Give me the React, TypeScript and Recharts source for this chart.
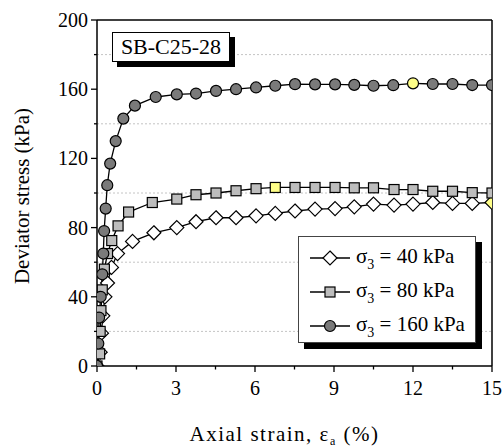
import React from 'react';
import {
  LineChart,
  Line,
  XAxis,
  YAxis,
  Legend,
  ReferenceLine,
} from 'recharts';

// 軸ひずみ (%) と偏差応力 (kPa)
const strain40 = [0, 0.12, 0.17, 0.22, 0.3, 0.4, 0.55, 0.78, 1.35, 2.16, 3.03, 3.76, 4.52, 5.28, 6.04, 6.77, 7.52, 8.28, 9.04, 9.77, 10.5, 11.28, 12.0, 12.75, 13.5, 14.25, 15.0];
const stress40 = [0, 8, 19, 29, 40, 48, 57, 65, 72, 77, 80, 83.4, 85.7, 85.7, 86.8, 88.2, 89.6, 90.7, 91, 92, 93.6, 93, 93.6, 94.5, 94, 94, 94.5];

const strain80 = [0, 0.1, 0.12, 0.15, 0.2, 0.28, 0.4, 0.56, 0.8, 1.2, 2.1, 3.03, 3.76, 4.52, 5.28, 6.04, 6.77, 7.52, 8.28, 9.04, 9.77, 10.5, 11.28, 12.0, 12.75, 13.5, 14.25, 15.0];
const stress80 = [0, 7, 20, 32, 44, 56, 65, 72.5, 81, 89, 94.5, 96.5, 99, 100, 101.3, 102.5, 103.2, 103.2, 103.2, 103.2, 103, 103, 102, 102, 101, 101, 100.2, 100];

const strain160 = [0, 0.05, 0.08, 0.14, 0.2, 0.24, 0.27, 0.33, 0.39, 0.5, 0.71, 1.0, 1.44, 2.23, 3.03, 3.76, 4.52, 5.28, 6.04, 6.77, 7.52, 8.28, 9.04, 9.77, 10.5, 11.25, 12.0, 12.75, 13.5, 14.25, 15.0];
const stress160 = [0, 13, 28, 40, 53, 65, 78, 91, 104.5, 117, 130, 143, 150.5, 155.5, 157, 157.5, 159, 160, 161, 162, 162.9, 162.8, 162.8, 162.5, 162, 162.3, 163.4, 163, 163, 162.4, 162.4];

// 黄色で強調されている点 (ひずみ値)
const peak40 = 15.0;
const peak80 = 6.77;
const peak160 = 12.0;

const xTicks = [0, 1.5, 3, 4.5, 6, 7.5, 9, 10.5, 12, 13.5, 15];
const yTicks = [0, 20, 40, 60, 80, 100, 120, 140, 160, 180, 200];
const gridValues = [20, 60, 100, 140, 180];

const toPoints = (xs: number[], ys: number[]) => xs.map((x, i) => ({ x, y: ys[i] }));

const FONT = "'Liberation Serif', 'Times New Roman', serif";
const HIGHLIGHT = '#ffff88';
const txt = { fontFamily: FONT, fontSize: 20, fill: '#000' };

const Diamond = ({ cx, cy, fill }: any) => (
  <path
    d={`M${cx},${cy - 7}L${cx + 7},${cy}L${cx},${cy + 7}L${cx - 7},${cy}Z`}
    fill={fill}
    stroke="#000"
    strokeWidth={1.2}
  />
);
const Square = ({ cx, cy, fill }: any) => (
  <rect x={cx - 5} y={cy - 5} width={10} height={10} fill={fill} stroke="#000" strokeWidth={1.2} />
);
const Circle = ({ cx, cy, fill }: any) => (
  <circle cx={cx} cy={cy} r={5.5} fill={fill} stroke="#000" strokeWidth={1.2} />
);

const makeDot = (Shape: any, base: string, peak: number) => (props: any) => {
  const { cx, cy, index, payload } = props;
  if (cx == null || cy == null) return <g key={`e-${index}`} />;
  const fill = payload && payload.x === peak ? HIGHLIGHT : base;
  return (
    <g key={`d-${index}`}>
      <Shape cx={cx} cy={cy} fill={fill} />
    </g>
  );
};

const YTick = ({ x, y, payload }: any) => {
  const major = payload.value % 40 === 0;
  return (
    <g>
      <line x1={x - (major ? 6 : 3)} x2={x} y1={y} y2={y} stroke="#000" strokeWidth={1.3} />
      {major && (
        <text x={x - 9} y={y} dy="0.35em" textAnchor="end" style={txt}>
          {payload.value}
        </text>
      )}
    </g>
  );
};

const XTick = ({ x, y, payload }: any) => {
  const major = payload.value % 3 === 0;
  return (
    <g>
      <line x1={x} x2={x} y1={y} y2={y + (major ? 6 : 3.5)} stroke="#000" strokeWidth={1.3} />
      {major && (
        <text x={x} y={y + 29} textAnchor="middle" style={txt}>
          {payload.value}
        </text>
      )}
    </g>
  );
};

const YLabel = ({ viewBox }: any) => {
  const cx = viewBox.x + 22;
  const cy = viewBox.y + viewBox.height / 2 + 3;
  return (
    <text
      x={cx}
      y={cy}
      transform={`rotate(-90 ${cx} ${cy})`}
      textAnchor="middle"
      dy="0.35em"
      style={{ ...txt, fontSize: 21 }}
    >
      Deviator stress (kPa)
    </text>
  );
};

const XLabel = ({ viewBox }: any) => (
  <text
    x={viewBox.x + viewBox.width / 2 - 10}
    y={viewBox.y + 75}
    textAnchor="middle"
    style={{ ...txt, fontSize: 21, letterSpacing: 1.5 }}
  >
    Axial strain, ε
    <tspan style={{ fontSize: 12 }} dy={4}>a</tspan>
    <tspan dy={-4}> (%)</tspan>
  </text>
);

const legendRows = [
  { label: '40 kPa', Shape: Diamond, fill: '#fff' },
  { label: '80 kPa', Shape: Square, fill: '#bdbdbd' },
  { label: '160 kPa', Shape: Circle, fill: '#7a7a7a' },
];

const LegendBox = () => (
  <div
    style={{
      width: 178,
      height: 107,
      boxSizing: 'border-box',
      border: '1px solid #444',
      background: '#fff',
      boxShadow: '6px 6px 0 #000',
      paddingTop: 4,
      fontFamily: FONT,
      fontSize: 21,
      color: '#000',
    }}
  >
    {legendRows.map(({ label, Shape, fill }) => (
      <div key={label} style={{ height: 34, display: 'flex', alignItems: 'center', paddingLeft: 11 }}>
        <svg width={40} height={16} style={{ marginRight: 6 }}>
          <line x1={0} x2={40} y1={8} y2={8} stroke="#000" strokeWidth={1.3} />
          <Shape cx={20} cy={8} fill={fill} />
        </svg>
        <span style={{ whiteSpace: 'nowrap' }}>
          σ<sub style={{ fontSize: 14, verticalAlign: -6 }}>3</sub> = {label}
        </span>
      </div>
    ))}
  </div>
);

export default function App() {
  return (
    <div style={{ position: 'absolute', left: 0, top: 0, width: 502, height: 448, background: '#fff' }}>
      <LineChart width={502} height={448} margin={{ top: 20, right: 10, bottom: 0, left: 0 }}>
        {gridValues.map((v) => (
          <ReferenceLine key={v} y={v} stroke="#c4c4c4" strokeDasharray="2 2" strokeWidth={1} />
        ))}
        <ReferenceLine y={200} stroke="#000" strokeWidth={1.5} />
        <ReferenceLine x={15} stroke="#000" strokeWidth={1.5} />
        <XAxis
          type="number"
          dataKey="x"
          domain={[0, 15]}
          ticks={xTicks}
          interval={0}
          height={82}
          tickSize={0}
          tickMargin={0}
          tickLine={false}
          tick={<XTick />}
          axisLine={{ stroke: '#000', strokeWidth: 1.5 }}
          label={<XLabel />}
          allowDataOverflow
        />
        <YAxis
          type="number"
          dataKey="y"
          domain={[0, 200]}
          ticks={yTicks}
          interval={0}
          width={97}
          tickSize={0}
          tickMargin={0}
          tickLine={false}
          tick={<YTick />}
          axisLine={{ stroke: '#000', strokeWidth: 1.5 }}
          label={<YLabel />}
          allowDataOverflow
        />
        <Legend
          layout="vertical"
          align="center"
          verticalAlign="middle"
          wrapperStyle={{ left: 298, top: 236, width: 184, height: 114 }}
          content={() => <LegendBox />}
        />
        <Line
          data={toPoints(strain40, stress40)}
          dataKey="y"
          name="σ3 = 40 kPa"
          stroke="#000"
          strokeWidth={1.3}
          dot={makeDot(Diamond, '#fff', peak40)}
          isAnimationActive={false}
        />
        <Line
          data={toPoints(strain80, stress80)}
          dataKey="y"
          name="σ3 = 80 kPa"
          stroke="#000"
          strokeWidth={1.3}
          dot={makeDot(Square, '#bdbdbd', peak80)}
          isAnimationActive={false}
        />
        <Line
          data={toPoints(strain160, stress160)}
          dataKey="y"
          name="σ3 = 160 kPa"
          stroke="#000"
          strokeWidth={1.3}
          dot={makeDot(Circle, '#7a7a7a', peak160)}
          isAnimationActive={false}
        />
      </LineChart>
      <div
        style={{
          position: 'absolute',
          left: 112,
          top: 32,
          width: 118,
          height: 30,
          boxSizing: 'border-box',
          border: '1px solid #000',
          background: '#fff',
          boxShadow: '5px 5px 0 #000',
          fontFamily: FONT,
          fontSize: 22,
          lineHeight: '28px',
          textAlign: 'center',
          color: '#000',
        }}
      >
        SB-C25-28
      </div>
    </div>
  );
}
